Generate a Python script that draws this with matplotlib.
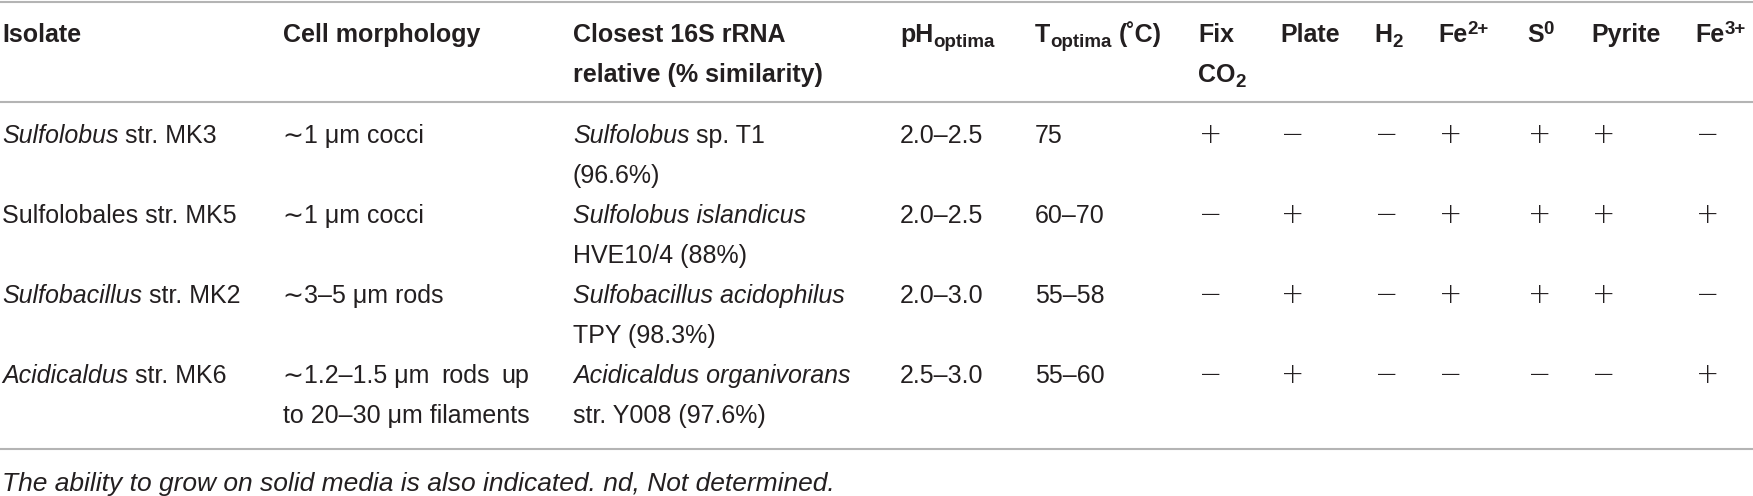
import matplotlib
matplotlib.use("Agg")
import matplotlib.pyplot as plt

plt.rcParams['font.family'] = ['Liberation Sans', 'DejaVu Sans']

# table content: header runs are (text, kind), kind n=normal, sub, sup, gap=space before
headers = [[[("Isolate", "n")]],
           [[("Cell morphology", "n")]],
           [[("Closest 16S rRNA", "n")], [("relative (% similarity)", "n")]],
           [[("pH", "n"), ("optima", "sub")]],
           [[("T", "n"), ("optima", "sub"), ("(˚C)", "gap")]],
           [[("Fix", "n")], [("CO", "n"), ("2", "sub")]],
           [[("Plate", "n")]],
           [[("H", "n"), ("2", "sub")]],
           [[("Fe", "n"), ("2+", "sup")]],
           [[("S", "n"), ("0", "sup")]],
           [[("Pyrite", "n")]],
           [[("Fe", "n"), ("3+", "sup")]]]

isolates = [[("Sulfolobus", True), ("str. MK3", False)],
            [("Sulfolobales str. MK5", False)],
            [("Sulfobacillus", True), ("str. MK2", False)],
            [("Acidicaldus", True), ("str. MK6", False)]]

morphology = ["∼1 μm cocci", "∼1 μm cocci", "∼3–5 μm rods",
              "∼1.2–1.5 μm rods up\nto 20–30 μm filaments"]

relatives = [[[("Sulfolobus", True), ("sp. T1", False)], [("(96.6%)", False)]],
             [[("Sulfolobus islandicus", True)], [("HVE10/4 (88%)", False)]],
             [[("Sulfobacillus acidophilus", True)], [("TPY (98.3%)", False)]],
             [[("Acidicaldus organivorans", True)], [("str. Y008 (97.6%)", False)]]]

ph_optima = ["2.0–2.5", "2.0–2.5", "2.0–3.0", "2.5–3.0"]
t_optima = ["75", "60–70", "55–58", "55–60"]

# Fix CO2, Plate, H2, Fe2+, S0, Pyrite, Fe3+
growth = [["+", "−", "−", "+", "+", "+", "−"],
          ["−", "+", "−", "+", "+", "+", "+"],
          ["−", "+", "−", "+", "+", "+", "−"],
          ["−", "+", "−", "−", "−", "−", "+"]]

footnote = "The ability to grow on solid media is also indicated. nd, Not determined."

# layout (pixels)
col_x = [2, 283, 573, 900, 1035, 1198, 1280, 1374, 1438, 1527, 1591, 1695]
row_base = [143, 223, 303, 383]
line_h = 40
fs = 18
hfs = 18
small = 13.5
txt_color = '#231f20'

fig = plt.figure(figsize=(17.53, 4.96), dpi=100)
ax = fig.add_axes([0, 0, 1, 1])
ax.set_xlim(0, 1753)
ax.set_ylim(496, 0)
ax.axis('off')
renderer = fig.canvas.get_renderer()

space_w = 0.278 * fs * 100 / 72


def width_of(t):
    return t.get_window_extent(renderer).width


def draw_runs(x, y, runs):
    for txt, it in runs:
        t = ax.text(x, y, txt, fontsize=fs, color=txt_color, va='baseline',
                    fontstyle='italic' if it else 'normal')
        x += width_of(t) + space_w
    return x


def draw_header(x, y, runs):
    for txt, kind in runs:
        size, dy = hfs, 0
        if kind == "sub":
            size, dy = small, 5
        elif kind == "sup":
            size, dy = small, -8
        elif kind == "gap":
            x += space_w
        t = ax.text(x, y + dy, txt, fontsize=size, fontweight='bold',
                    color=txt_color, va='baseline')
        x += width_of(t)


for y in [1.5, 102, 449]:
    ax.axhline(y, color='#b4b4b4', lw=1.5)

# header
for x, h in zip(col_x, headers):
    for k, runs in enumerate(h):
        draw_header(x, 42 + k * line_h, runs)

# body
for i, yb in enumerate(row_base):
    draw_runs(col_x[0], yb, isolates[i])

    lines = morphology[i].split("\n")
    if len(lines) == 1:
        ax.text(col_x[1], yb, lines[0], fontsize=fs, color=txt_color, va='baseline')
    else:
        t2 = ax.text(col_x[1], yb + line_h, lines[1], fontsize=fs,
                     color=txt_color, va='baseline')
        full_w = width_of(t2)
        words = lines[0].replace("5 μm", "5\u00a0μm").split(" ")
        words = [w.replace("\u00a0", " ") for w in words]
        tmp = [ax.text(0, yb, w, fontsize=fs, color=txt_color, va='baseline')
               for w in words]
        ws = [width_of(t) for t in tmp]
        gap = (full_w - sum(ws)) / (len(words) - 1)
        x = col_x[1]
        for t, w in zip(tmp, ws):
            t.set_x(x)
            x += w + gap

    for k, runs in enumerate(relatives[i]):
        draw_runs(col_x[2], yb + k * line_h, runs)

    ax.text(col_x[3], yb, ph_optima[i], fontsize=fs, color=txt_color, va='baseline')
    ax.text(col_x[4], yb, t_optima[i], fontsize=fs, color=txt_color, va='baseline')

    for j, s in enumerate(growth[i]):
        ax.text(col_x[5 + j] + 1, yb, s, fontsize=fs + 2, color=txt_color,
                va='baseline', family='DejaVu Sans', fontweight='light')

ax.text(2, 491, footnote, fontsize=fs + 1, fontstyle='italic', color=txt_color,
        va='baseline')

fig.savefig("out.png", dpi=100)
